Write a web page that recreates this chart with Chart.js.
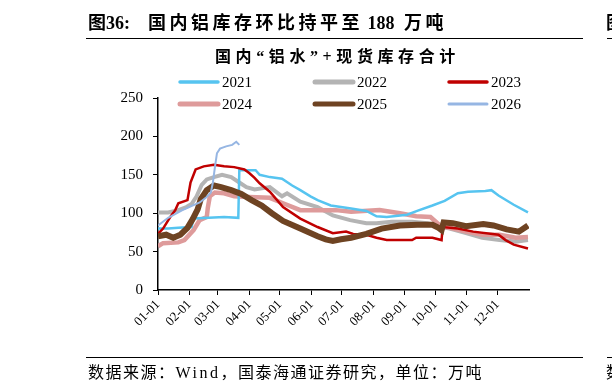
<!DOCTYPE html>
<html>
<head>
  <meta charset="utf-8">
  <title>国内铝库存</title>
  <script src="https://cdn.jsdelivr.net/npm/chart.js"></script>
  <style>
    html, body { margin: 0; padding: 0; background: #fff; }
    body { width: 612px; height: 388px; position: relative; overflow: hidden; }
    #chart { position: absolute; left: 0; top: 0; }
    .txt { position: absolute; white-space: nowrap; color: #000;
           font-family: "Liberation Serif", "Noto Sans CJK SC", serif; }
    .rule { position: absolute; height: 0; border-top: 1.5px solid #000; }
    .sp { letter-spacing: 3.5px; }
  </style>
</head>
<body>
  <canvas id="chart" width="612" height="388"></canvas>
  <div class="txt" style="left:88px;top:8px;font-size:18px;font-weight:bold;">图36:<span style="display:inline-block;width:18px;"></span><span class="sp">国内铝库存环比持平至</span>&nbsp;188&nbsp;<span style="display:inline-block;width:5px;"></span><span class="sp">万吨</span></div>
  <div class="txt" style="left:606px;top:8px;font-size:18px;font-weight:bold;">图</div>
  <div class="rule" style="left:86px;width:497px;top:38px;"></div>
  <div class="rule" style="left:607px;width:10px;top:38px;"></div>
  <div class="txt" style="left:215px;top:43px;font-size:16px;font-weight:bold;letter-spacing:4.6px;">国内“铝水”+现货库存合计</div>
  <div class="rule" style="left:86px;width:497px;top:357px;"></div>
  <div class="rule" style="left:607px;width:10px;top:357px;"></div>
  <div class="txt" style="left:88px;top:359px;font-size:16px;letter-spacing:1.5px;">数据来源：<span style="letter-spacing:2.5px;">Wind</span>，国泰海通证券研究，单位：万吨</div>
  <div class="txt" style="left:606px;top:359px;font-size:16px;">数</div>

  <script>
    // day of year -> month tick labels
    const monthDays = [0, 31, 59, 90, 120, 151, 181, 212, 243, 273, 304, 334];
    const monthLabels = ['01-01', '02-01', '03-01', '04-01', '05-01', '06-01',
                         '07-01', '08-01', '09-01', '10-01', '11-01', '12-01'];
    const yearNames = ['2021', '2022', '2023', '2024', '2025', '2026'];

    const days2021 = [0, 10, 20, 33, 35, 50, 65, 79, 80, 96, 100, 110, 122, 132, 140, 150, 157, 170, 190, 205, 215, 225, 245, 255, 270, 282, 295, 305, 322, 328, 335, 350, 364];
    const vals2021 = [80, 80, 81, 82, 93, 94, 95, 94, 156, 156, 150, 147, 145, 136, 130, 122, 117, 110, 106, 103, 96, 95, 98, 103, 110, 116, 126, 128, 129, 130, 123, 111, 101];

    const days2022 = [0, 10, 20, 28, 33, 38, 43, 48, 55, 63, 72, 80, 87, 95, 110, 122, 127, 140, 157, 172, 189, 205, 215, 230, 250, 265, 280, 287, 303, 319, 336, 352, 364];
    const vals2022 = [101, 101, 104, 108, 112, 122, 137, 144, 147, 150, 147, 140, 134, 131, 134, 122, 126, 115, 108, 97, 91, 87, 87, 89, 89, 87, 82, 80, 74, 68, 65, 63, 65];

    const days2023 = [0, 5, 12, 17, 20, 29, 32, 37, 45, 55, 65, 75, 85, 90, 95, 100, 110, 123, 140, 157, 172, 185, 192, 205, 215, 225, 250, 254, 270, 279, 280, 295, 310, 335, 342, 350, 364];
    const vals2023 = [73, 80, 95, 104, 113, 117, 140, 157, 161, 163, 161, 160, 157, 152, 146, 139, 128, 108, 93, 82, 74, 76, 73, 72, 68, 65, 65, 68, 68, 65, 82, 80, 76, 72, 65, 59, 54];

    const days2024 = [0, 5, 20, 26, 35, 41, 48, 49, 51, 56, 65, 75, 90, 110, 123, 140, 175, 190, 218, 238, 254, 268, 275, 280, 287, 303, 319, 336, 352, 364];
    const vals2024 = [57, 61, 62, 65, 78, 91, 95, 107, 122, 127, 126, 122, 121, 120, 113, 104, 104, 102, 104, 100, 96, 95, 87, 82, 81, 76, 72, 72, 68, 69];

    const days2025 = [0, 8, 15, 22, 29, 34, 39, 42, 48, 55, 62, 72, 82, 92, 102, 112, 123, 140, 157, 165, 172, 180, 190, 205, 220, 238, 255, 270, 276, 279, 281, 290, 303, 320, 330, 343, 355, 364];
    const vals2025 = [70, 72, 68, 72, 81, 92, 105, 118, 130, 136, 134, 130, 125, 117, 110, 100, 90, 80, 70, 66, 64, 66, 68, 73, 80, 84, 85, 85, 81, 78, 88, 87, 83, 86, 84, 79, 76, 84];

    const days2026 = [0, 10, 24, 41, 47, 50, 52, 54, 56, 58, 61, 67, 73, 77, 80];
    const vals2026 = [84, 94, 104, 114, 120, 124, 127, 140, 160, 178, 184, 187, 189, 193, 189];

    const allDays = [days2021, days2022, days2023, days2024, days2025, days2026];
    const allVals = [vals2021, vals2022, vals2023, vals2024, vals2025, vals2026];
    const colors = ['#56C4F0', '#B4B4B4', '#C00000', '#DE9B9B', '#6E4322', '#96B6E3'];
    const widths = [2.5, 4, 2.5, 4.5, 6, 2];
    const drawOrder = [3, 5, 2, 4, 1, 0];

    const datasets = yearNames.map((name, i) => ({
      label: name,
      data: allDays[i].map((d, j) => ({ x: d, y: allVals[i][j] })),
      borderColor: colors[i],
      borderWidth: widths[i],
      pointRadius: 0,
      tension: 0,
      fill: false,
      order: drawOrder[i]
    }));

    // legend drawn in three columns like the original
    const legendPlugin = {
      id: 'gridLegend',
      afterDraw(chart) {
        const ctx = chart.ctx;
        const colX = [178, 313, 447];
        const rowY = [82, 104];
        ctx.save();
        ctx.font = '15px "Liberation Serif"';
        ctx.textBaseline = 'middle';
        ctx.fillStyle = '#000';
        ctx.lineCap = 'round';
        chart.data.datasets.forEach((ds, i) => {
          const x = colX[i % 3], y = rowY[Math.floor(i / 3)];
          ctx.strokeStyle = ds.borderColor;
          ctx.lineWidth = Math.min(ds.borderWidth + 1, 5);
          ctx.beginPath();
          ctx.moveTo(x + 2, y);
          ctx.lineTo(x + 40, y);
          ctx.stroke();
          ctx.fillText(ds.label, x + 44, y + 1);
        });
        ctx.restore();
      }
    };

    new Chart(document.getElementById('chart').getContext('2d'), {
      type: 'line',
      data: { datasets: datasets },
      plugins: [legendPlugin],
      options: {
        responsive: false,
        animation: false,
        layout: { padding: { left: 0, right: 83, top: 98, bottom: 48 } },
        plugins: { legend: { display: false }, tooltip: { enabled: false } },
        scales: {
          x: {
            type: 'linear',
            min: 0,
            max: 365,
            afterBuildTicks(axis) { axis.ticks = monthDays.map(v => ({ value: v })); },
            afterFit(axis) { axis.height = 50; },
            ticks: {
              autoSkip: false,
              minRotation: 45,
              maxRotation: 45,
              padding: 2,
              color: '#000',
              font: { family: 'Liberation Serif', size: 13 },
              callback: (v, i) => monthLabels[i]
            },
            grid: { display: true, drawOnChartArea: false, drawTicks: true, tickLength: 5, color: '#000' },
            border: { display: true, color: '#000', width: 1.5 }
          },
          y: {
            min: 0,
            max: 250,
            afterFit(axis) { axis.width = 158; },
            ticks: {
              stepSize: 50,
              padding: 10,
              color: '#000',
              font: { family: 'Liberation Serif', size: 15 }
            },
            grid: { display: true, drawOnChartArea: false, drawTicks: true, tickLength: 5, color: '#000' },
            border: { display: true, color: '#000', width: 1.5 }
          }
        }
      }
    });
  </script>
</body>
</html>
